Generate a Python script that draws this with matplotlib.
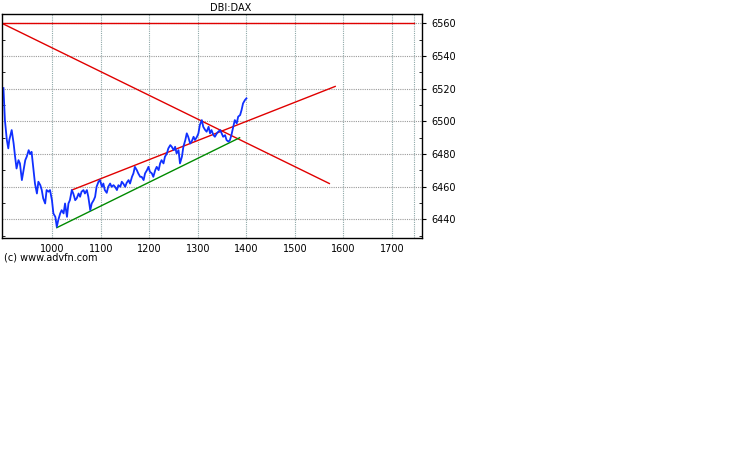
import matplotlib
matplotlib.use("Agg")
import matplotlib.pyplot as plt
from matplotlib.ticker import MultipleLocator

# price series
bar_x = [899, 902, 906, 909, 911, 916, 920, 923, 926, 930, 933, 937, 940, 944,
         947, 951, 954, 957, 961, 964, 968, 971, 975, 978, 981, 985, 988, 992,
         995, 999, 1002, 1006, 1009, 1012, 1016, 1019, 1023, 1026, 1030, 1033,
         1036, 1040, 1043, 1047, 1050, 1054, 1057, 1060, 1064, 1067, 1071, 1074,
         1078, 1081, 1085, 1088, 1091, 1095, 1098, 1102, 1105, 1108, 1112, 1115,
         1119, 1122, 1126, 1129, 1133, 1136, 1140, 1143, 1146, 1150, 1153, 1157,
         1160, 1164, 1167, 1170, 1174, 1177, 1181, 1184, 1188, 1191, 1195, 1198,
         1201, 1205, 1208, 1212, 1215, 1219, 1222, 1225, 1229, 1232, 1236, 1239,
         1243, 1246, 1250, 1253, 1256, 1260, 1263, 1267, 1270, 1274, 1277, 1280,
         1284, 1287, 1291, 1294, 1298, 1301, 1304, 1308, 1311, 1315, 1318, 1322,
         1325, 1328, 1332, 1335, 1339, 1342, 1346, 1349, 1352, 1356, 1359, 1363,
         1366, 1369, 1373, 1376, 1380, 1383, 1387, 1390, 1393, 1397, 1400]
price = [6520.4, 6500.8, 6488.6, 6483.5, 6488.6, 6494.7, 6486.5, 6478.4, 6471.2,
         6476.3, 6474.3, 6464.1, 6469.2, 6476.3, 6478.4, 6482.4, 6480.0, 6481.4,
         6470.2, 6462.0, 6455.9, 6463.1, 6461.0, 6458.0, 6452.9, 6449.8, 6458.0,
         6457.0, 6458.0, 6451.8, 6443.7, 6441.6, 6435.5, 6439.6, 6443.7, 6445.7,
         6443.7, 6449.8, 6441.6, 6449.8, 6451.8, 6458.0, 6455.9, 6451.8, 6452.9,
         6455.9, 6453.9, 6457.0, 6458.0, 6455.9, 6458.0, 6453.9, 6445.7, 6449.8,
         6451.8, 6453.9, 6460.0, 6463.1, 6464.1, 6460.0, 6462.0, 6458.0, 6456.3,
         6460.0, 6462.0, 6460.0, 6461.0, 6460.0, 6458.0, 6461.0, 6460.0, 6463.1,
         6462.0, 6460.0, 6462.4, 6464.1, 6462.0, 6466.1, 6468.2, 6472.2, 6470.2,
         6468.2, 6466.1, 6466.1, 6464.1, 6468.2, 6470.2, 6472.2, 6469.2, 6468.2,
         6466.1, 6470.2, 6472.2, 6470.2, 6474.3, 6476.3, 6474.3, 6478.4, 6480.4,
         6483.5, 6485.5, 6484.5, 6482.4, 6484.5, 6480.4, 6482.4, 6474.3, 6478.4,
         6484.5, 6488.6, 6492.7, 6490.6, 6486.5, 6487.6, 6490.6, 6488.6, 6490.6,
         6492.7, 6497.8, 6500.8, 6496.7, 6494.7, 6493.7, 6496.7, 6492.7, 6494.7,
         6491.6, 6490.6, 6492.7, 6493.7, 6494.7, 6492.7, 6490.6, 6491.6, 6488.6,
         6487.6, 6488.6, 6491.6, 6496.7, 6500.8, 6498.8, 6502.9, 6503.9, 6507.0,
         6511.0, 6513.1, 6514.1]

# drawn trend lines: (x0, x1), (y0, y1)
resist_x, resist_y = [896, 1746], [6560, 6560]
down_x, down_y = [896, 1571], [6560, 6462]
upper_x, upper_y = [1040, 1583], [6458, 6521.4]
lower_x, lower_y = [1009, 1386], [6435, 6490]

x_ticks = [1000, 1100, 1200, 1300, 1400, 1500, 1600, 1700]
y_ticks = [6440, 6460, 6480, 6500, 6520, 6540, 6560]

fig = plt.figure(figsize=(7.38, 4.75), dpi=100)
ax = fig.add_axes([0.0027, 0.498, 0.5691, 0.4725])

# dotted grid, verticals slightly teal, horizontals grey
for xv in x_ticks + [1746]:
    ax.axvline(xv, color="#8fa8a8", linestyle=(0, (1, 1)), linewidth=0.8, zorder=0)
for yv in y_ticks:
    ax.axhline(yv, color="#9a9a9a", linestyle=(0, (1, 1)), linewidth=0.8, zorder=0)

ax.plot(resist_x, resist_y, color="#e00000", lw=1)
ax.plot(down_x, down_y, color="#e00000", lw=1)
ax.plot(upper_x, upper_y, color="#e00000", lw=1)
ax.plot(lower_x, lower_y, color="#008a00", lw=1)
ax.plot(bar_x, price, color="#1030ff", lw=1.3)

ax.set_xlim(896, 1762)
ax.set_ylim(6428.4, 6565.7)
ax.set_xticks(x_ticks)
ax.set_yticks(y_ticks)
ax.yaxis.set_minor_locator(MultipleLocator(10))
ax.yaxis.tick_right()
ax.tick_params(axis="both", which="major", labelsize=7, length=3, width=0.8)
ax.tick_params(axis="y", which="minor", length=2, direction="in", left=True, right=True)
ax.tick_params(axis="x", length=0, pad=4)
for s in ax.spines.values():
    s.set_linewidth(1)

fig.text(0.313, 0.983, "DBI:DAX", ha="center", va="center", fontsize=7)
fig.text(0.005, 0.457, "(c) www.advfn.com", ha="left", va="center", fontsize=7)

fig.savefig("out.png", dpi=100)
